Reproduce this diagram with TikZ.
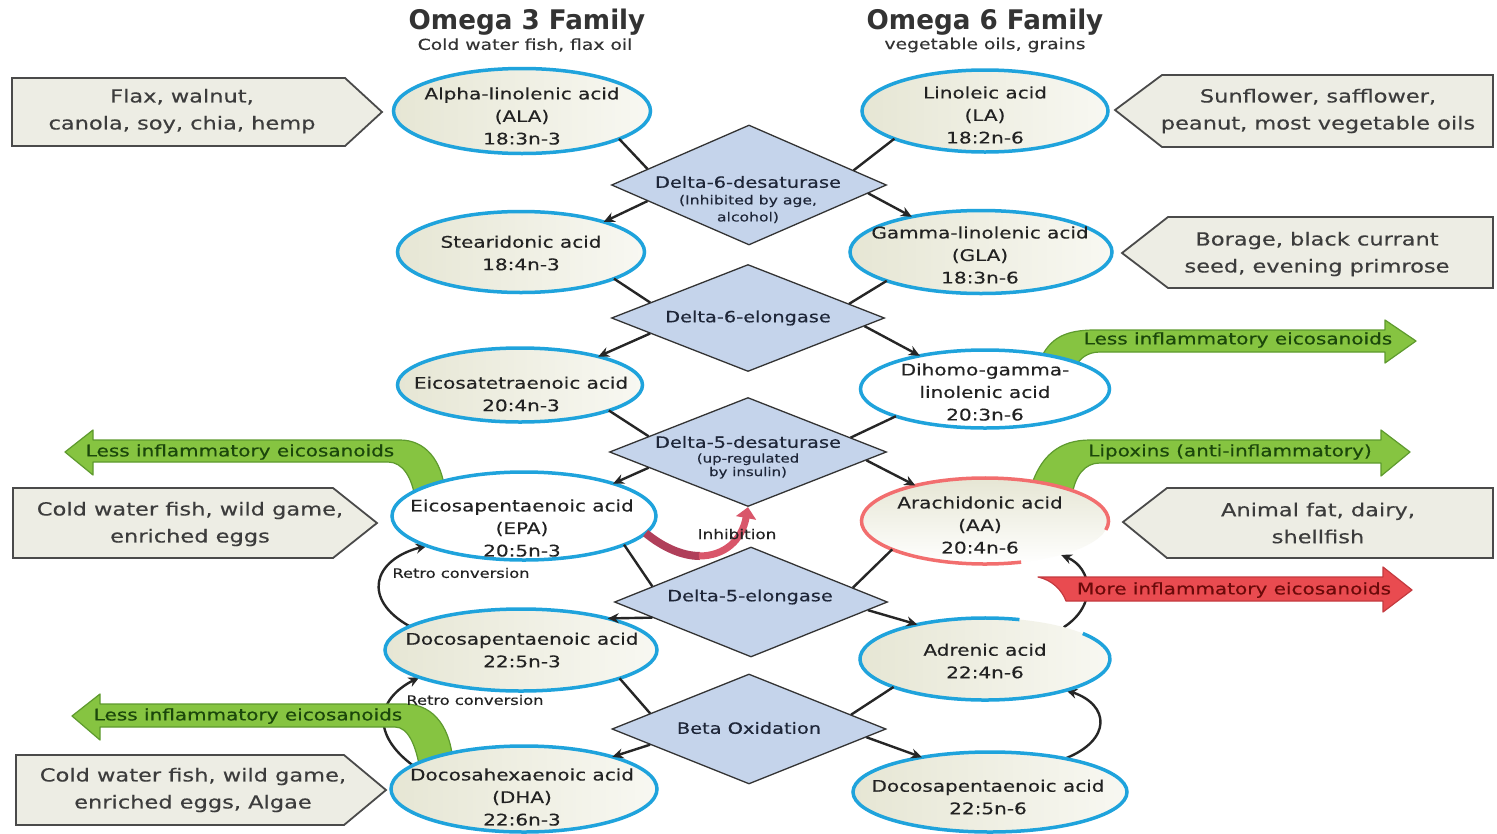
\documentclass[tikz,border=0pt]{standalone}
\usepackage{fontspec}
\setmainfont[FakeStretch=1.25,FakeBold=0.35]{DejaVu Sans}
\newfontfamily\titlefont[FakeStretch=0.97]{DejaVu Sans Bold}
\usetikzlibrary{shapes.geometric,arrows.meta}
\pgfdeclarelayer{bg}
\pgfdeclarelayer{bgbase}
\pgfsetlayers{bgbase,bg,main}
\definecolor{ellblue}{HTML}{1FA3DC}
\definecolor{ellbg}{HTML}{E6E6D4}
\definecolor{ellbg2}{HTML}{F8F8F2}
\definecolor{aared}{HTML}{F26E6E}
\definecolor{diafill}{HTML}{C5D4EB}
\definecolor{diaborder}{HTML}{333333}
\definecolor{enztxt}{HTML}{1E2638}
\definecolor{boxfill}{HTML}{EDEDE4}
\definecolor{boxborder}{HTML}{4A4A4A}
\definecolor{srctxt}{HTML}{3C3C3C}
\definecolor{txtc}{HTML}{222222}
\definecolor{greenfill}{HTML}{86C441}
\definecolor{greenline}{HTML}{5E9A2E}
\definecolor{greentxt}{HTML}{1B470B}
\definecolor{redfill}{HTML}{E94B50}
\definecolor{redline}{HTML}{C43A3F}
\definecolor{redtxt}{HTML}{6B0A0A}
\definecolor{inhib}{HTML}{D9566A}
\definecolor{inhibdark}{HTML}{B03F5A}
\definecolor{titlec}{HTML}{333333}
\begin{document}
\begin{tikzpicture}[x=1pt,y=-1pt,
  acid/.style={ellipse, line width=3.5pt, inner sep=0pt, outer sep=0pt},
  beige/.style={left color=ellbg, right color=ellbg2},
  conn/.style={line width=2.4pt, draw=black!85},
  headed/.style={-{Stealth[length=11pt,width=10pt]}},
  atext/.style={align=center, text=txtc, font=\fontsize{16}{22.5}\selectfont, inner sep=0pt},
  enz/.style={diamond, draw=diaborder, line width=1.3pt, fill=diafill, inner sep=0pt},
  etext/.style={align=center, text=enztxt, font=\fontsize{15.5}{18}\selectfont, inner sep=0pt},
  esub/.style={align=center, text=enztxt, font=\fontsize{12.5}{17}\selectfont, inner sep=0pt},
  srcbox/.style={draw=boxborder, line width=1.8pt, fill=boxfill, line join=miter},
  stext/.style={align=center, text=srctxt, font=\fontsize{18}{27}\selectfont, inner sep=0pt},
  garrow/.style={fill=greenfill, draw=greenline, line width=1.2pt, line join=round},
  rarrow/.style={fill=redfill, draw=redline, line width=1.2pt, line join=round},
  gtext/.style={text=greentxt, font=\fontsize{16}{18}\selectfont, inner sep=0pt},
  rtext/.style={text=redtxt, font=\fontsize{16}{18}\selectfont, inner sep=0pt},
  smalllab/.style={text=txtc, font=\fontsize{13}{15}\selectfont, inner sep=0pt},
]
\begin{pgfonlayer}{bgbase}
\fill[white] (0,0) rectangle (1497,833);
\end{pgfonlayer}
\useasboundingbox (0,0) rectangle (1497,833);

% titles
\node[font=\titlefont\fontsize{27}{30}\selectfont, text=titlec, inner sep=0pt] (t3) at (527,22) {Omega 3 Family};
\node[font=\fontsize{15}{17}\selectfont, text=titlec, inner sep=0pt] (s3) at (525,45) {Cold water fish, flax oil};
\node[font=\titlefont\fontsize{27}{30}\selectfont, text=titlec, inner sep=0pt] (t6) at (985,22) {Omega 6 Family};
\node[font=\fontsize{15}{17}\selectfont, text=titlec, inner sep=0pt] (s6) at (985,45) {vegetable oils, grains};

% source boxes
\draw[srcbox] (12,78) -- (345,78) -- (382,112) -- (345,146) -- (12,146) -- cycle;
\node[stext] (src1) at (182,111) {Flax, walnut,\\canola, soy, chia, hemp};
\draw[srcbox] (13,488) -- (333,488) -- (377,523) -- (333,558) -- (13,558) -- cycle;
\node[stext] (src2) at (190,524) {Cold water fish, wild game,\\enriched eggs};
\draw[srcbox] (16,755) -- (344,755) -- (386,790) -- (344,825) -- (16,825) -- cycle;
\node[stext] (src3) at (193,790) {Cold water fish, wild game,\\enriched eggs, Algae};
\draw[srcbox] (1115,110) -- (1162,75) -- (1493,75) -- (1493,147) -- (1162,147) -- cycle;
\node[stext] (src4) at (1318,111) {Sunflower, safflower,\\peanut, most vegetable oils};
\draw[srcbox] (1122,253) -- (1168,217) -- (1493,217) -- (1493,288) -- (1168,288) -- cycle;
\node[stext] (src5) at (1317,254) {Borage, black currant\\seed, evening primrose};
\draw[srcbox] (1123,522) -- (1167,488) -- (1493,488) -- (1493,558) -- (1167,558) -- cycle;
\node[stext] (src6) at (1318,523) {Animal fat, dairy,\\shellfish};

% omega-3 acids
\node[acid, draw=ellblue, beige, minimum width=257pt, minimum height=85pt] (ala) at (522,111) {};
\node[acid, draw=ellblue, beige, minimum width=247pt, minimum height=81pt] (ste) at (521,252) {};
\node[acid, draw=ellblue, beige, minimum width=245pt, minimum height=74pt] (eta) at (520,385) {};
\node[acid, draw=ellblue, fill=white, minimum width=264pt, minimum height=88pt] (epa) at (524,516) {};
\node[acid, draw=ellblue, beige, minimum width=272pt, minimum height=82pt] (dpa3) at (521,650) {};
\node[acid, draw=ellblue, beige, minimum width=266pt, minimum height=86pt] (dha) at (524,789) {};
% omega-6 acids
\node[acid, draw=ellblue, beige, minimum width=246pt, minimum height=82pt] (la) at (985,111) {};
\node[acid, draw=ellblue, beige, minimum width=262pt, minimum height=83pt] (gla) at (981,252) {};
\node[acid, draw=ellblue, fill=white, minimum width=249pt, minimum height=78pt] (dgla) at (985,389) {};
\node[acid, top color=ellbg, bottom color=white, minimum width=247pt, minimum height=86pt] (aa) at (985,521) {};
\node[acid, beige, minimum width=250pt, minimum height=82pt] (adr) at (985,659) {};
\node[acid, draw=ellblue, beige, minimum width=274pt, minimum height=80pt] (dpa6) at (990,792) {};
\draw[aared, line width=3.5pt] (aa.center) ++(-12:123.5pt and 43pt) arc[start angle=-12, end angle=287, x radius=123.5pt, y radius=43pt];
\draw[ellblue, line width=3.5pt] (adr.center) ++(74:125pt and 41pt) arc[start angle=74, end angle=398.5, x radius=125pt, y radius=41pt];

% enzymes
\node[enz, minimum width=275pt, minimum height=120pt] (d6d) at (749,185) {};
\node[enz, minimum width=273pt, minimum height=107pt] (d6e) at (748,318) {};
\node[enz, minimum width=277pt, minimum height=109pt] (d5d) at (748,452) {};
\node[enz, minimum width=273pt, minimum height=110pt] (d5e) at (751,602) {};
\node[enz, minimum width=274pt, minimum height=110pt] (bo) at (749,729) {};

% pathway connectors
\foreach \a/\d/\b in {ala/d6d/ste, ste/d6e/eta, eta/d5d/epa, epa/d5e/dpa3, dpa3/bo/dha} {
  \draw[conn] (\a.-16) -- (\d.171);
  \draw[conn, headed] (\d.189) -- (\b.20);
}
\foreach \a/\d/\b in {la/d6d/gla, gla/d6e/dgla, dgla/d5d/aa, aa/d5e/adr, adr/bo/dpa6} {
  \draw[conn] (\a.-163) -- (\d.8);
  \draw[conn, headed] (\d.-4) -- (\b.153);
}

\begin{pgfonlayer}{bg}
  % retro conversions
  \draw[conn, headed] (dpa3.168) .. controls (362,600) and (372,560) .. (epa.-163);
  \draw[conn, headed] (dha.168) .. controls (372,735) and (375,700) .. (dpa3.-165);
  \draw[conn, headed] (dpa6.24) .. controls (1112,740) and (1110,705) .. (adr.-21);
  \draw[conn, headed] (adr.22) .. controls (1098,605) and (1092,568) .. (aa.-24);
  % eicosanoid arrows
  \draw[garrow] (1040,360) .. controls (1050,338) and (1065,330) .. (1095,330) -- (1385,330) -- (1385,320) -- (1416,341) -- (1385,363) -- (1385,352) -- (1100,352) .. controls (1088,352) and (1080,358) .. (1076,366) -- cycle;
  \draw[garrow] (1030,490) .. controls (1040,455) and (1060,440) .. (1090,440) -- (1381,440) -- (1381,430) -- (1410,452) -- (1381,476) -- (1381,463) -- (1100,463) .. controls (1085,463) and (1075,475) .. (1072,496) -- cycle;
  \draw[rarrow] (1038,577) -- (1383,577) -- (1383,567) -- (1412,590) -- (1383,612) -- (1383,601) -- (1066,601) .. controls (1062,590) and (1052,580) .. (1038,577) -- cycle;
  \draw[garrow] (65,452) -- (93,430) -- (93,440) -- (400,440) .. controls (425,440) and (442,460) .. (445,492) -- (415,498) .. controls (412,478) and (403,462) .. (388,462) -- (93,462) -- (93,475) -- cycle;
  \draw[garrow] (72,716) -- (100,694) -- (100,704) -- (405,704) .. controls (435,704) and (452,730) .. (453,766) -- (420,770) .. controls (416,745) and (408,727) .. (395,727) -- (100,727) -- (100,740) -- cycle;
\end{pgfonlayer}

\node[gtext] (g1) at (1238,340) {Less inflammatory eicosanoids};
\node[gtext] (g2) at (1230,452) {Lipoxins (anti-inflammatory)};
\node[rtext] (r1) at (1234,590) {More inflammatory eicosanoids};
\node[gtext] (g3) at (240,452) {Less inflammatory eicosanoids};
\node[gtext] (g4) at (248,716) {Less inflammatory eicosanoids};

% inhibition
\draw[line width=8pt, inhibdark] (epa.-8) .. controls (660,545) and (680,556) .. (700,556);
\draw[line width=7pt, inhib, -{Triangle[length=11pt,width=20pt]}] (699,556) .. controls (725,556) and (742,540) .. (d5d.south);
\node[smalllab, font=\fontsize{13.5}{15}\selectfont] (inh) at (737,534) {Inhibition};
\node[smalllab] (rc1) at (461,573) {Retro conversion};
\node[smalllab] (rc2) at (475,700) {Retro conversion};

% acid labels
\node[atext] (ala-t) at (522,116) {Alpha-linolenic acid\\(ALA)\\18:3n-3};
\node[atext] (ste-t) at (521,253) {Stearidonic acid\\18:4n-3};
\node[atext] (eta-t) at (521,394) {Eicosatetraenoic acid\\20:4n-3};
\node[atext] (epa-t) at (522,528) {Eicosapentaenoic acid\\(EPA)\\20:5n-3};
\node[atext] (dpa3-t) at (522,650) {Docosapentaenoic acid\\22:5n-3};
\node[atext] (dha-t) at (522,797) {Docosahexaenoic acid\\(DHA)\\22:6n-3};
\node[atext] (la-t) at (985,115) {Linoleic acid\\(LA)\\18:2n-6};
\node[atext] (gla-t) at (980,255) {Gamma-linolenic acid\\(GLA)\\18:3n-6};
\node[atext] (dgla-t) at (985,392) {Dihomo-gamma-\\linolenic acid\\20:3n-6};
\node[atext] (aa-t) at (980,525) {Arachidonic acid\\(AA)\\20:4n-6};
\node[atext] (adr-t) at (985,661) {Adrenic acid\\22:4n-6};
\node[atext] (dpa6-t) at (988,797) {Docosapentaenoic acid\\22:5n-6};

% enzyme labels
\node[etext] (d6d-t) at (748,182) {Delta-6-desaturase};
\node[esub] (d6d-s) at (748,209) {(Inhibited by age,\\alcohol)};
\node[etext] (d6e-t) at (748,318) {Delta-6-elongase};
\node[etext] (d5d-t) at (748,442) {Delta-5-desaturase};
\node[esub, font=\fontsize{12}{13.5}\selectfont] (d5d-s) at (748,466) {(up-regulated\\by insulin)};
\node[etext] (d5e-t) at (750,597) {Delta-5-elongase};
\node[etext] (bo-t) at (749,728) {Beta Oxidation};
\end{tikzpicture}
\end{document}
